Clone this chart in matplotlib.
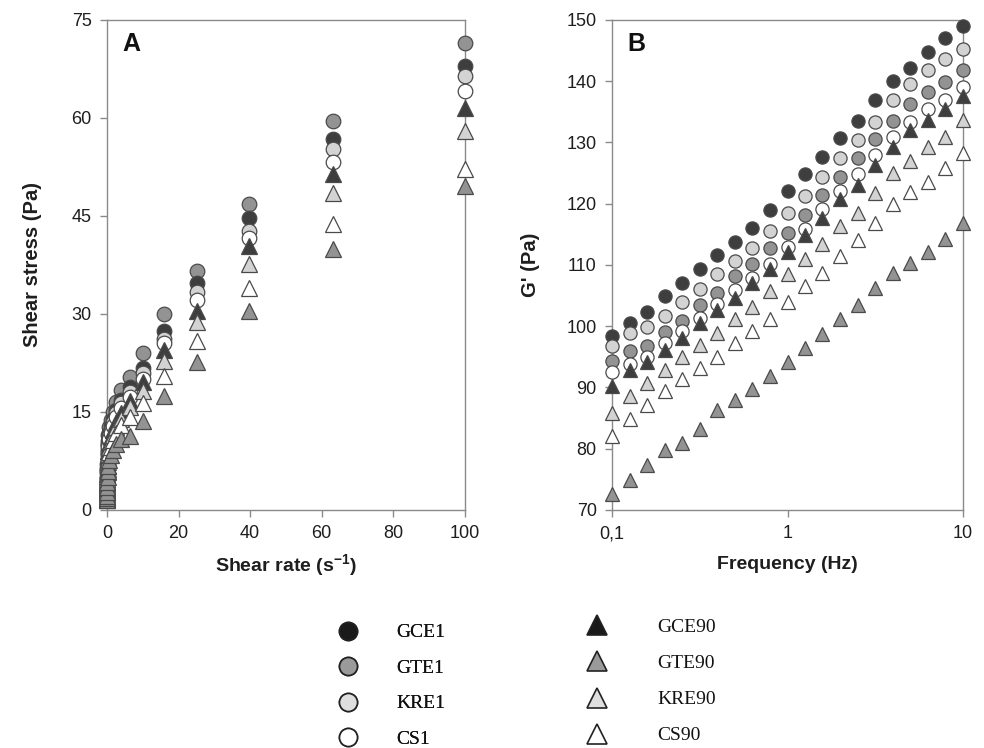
import matplotlib
matplotlib.use("Agg")
import matplotlib.pyplot as plt
from matplotlib.lines import Line2D
from matplotlib.ticker import FixedLocator, FixedFormatter, NullLocator

plt.rcParams['font.family'] = ['Liberation Sans', 'DejaVu Sans']
plt.rcParams['mathtext.fontset'] = 'custom'
plt.rcParams['mathtext.rm'] = 'Liberation Sans'
plt.rcParams['mathtext.bf'] = 'Liberation Sans:bold'

# --- panel A: flow curves (shear stress vs shear rate) ---
shear_rate = [0.01, 0.0158, 0.0251, 0.0398, 0.0631, 0.1, 0.158, 0.251, 0.398, 0.631,
              1, 1.58, 2.51, 3.98, 6.31, 10, 15.8, 25.1, 39.8, 63.1, 100]

stress_gce1 = [1.9, 2.4, 3.1, 4.0, 5.1, 6.4, 7.8, 9.2, 10.6, 11.8, 12.8, 13.9, 15.3,
               16.9, 18.8, 21.8, 27.4, 34.8, 44.7, 56.8, 68.0]
stress_gte1 = [2.0, 2.6, 3.4, 4.4, 5.6, 7.0, 8.5, 10.0, 11.5, 12.7, 13.8, 15.0, 16.6,
               18.3, 20.3, 24.0, 30.0, 36.6, 46.8, 59.6, 71.4]
stress_kre1 = [1.8, 2.3, 3.0, 3.9, 4.9, 6.1, 7.4, 8.8, 10.1, 11.3, 12.3, 13.4, 14.8,
               16.3, 18.0, 20.9, 26.2, 33.3, 42.7, 55.2, 66.4]
stress_cs1 = [1.8, 2.2, 2.9, 3.7, 4.7, 5.9, 7.1, 8.4, 9.7, 10.8, 11.8, 12.9, 14.2,
              15.6, 17.3, 20.1, 25.6, 32.2, 41.7, 53.3, 64.1]
stress_gce90 = [1.7, 2.1, 2.7, 3.5, 4.4, 5.5, 6.7, 7.9, 9.1, 10.2, 11.2, 12.3, 13.5,
                14.9, 16.7, 19.6, 24.5, 30.4, 40.4, 51.4, 61.6]
stress_gte90 = [1.5, 1.8, 2.2, 2.8, 3.5, 4.3, 5.1, 5.9, 6.8, 7.6, 8.4, 9.2, 10.1,
                10.9, 11.4, 13.6, 17.5, 22.7, 30.4, 40.0, 49.6]
stress_kre90 = [1.7, 2.0, 2.6, 3.3, 4.2, 5.2, 6.3, 7.4, 8.5, 9.6, 10.5, 11.5, 12.7,
                14.0, 15.8, 18.2, 22.8, 28.8, 37.6, 48.5, 58.0]
stress_cs90 = [1.6, 1.9, 2.4, 3.1, 3.9, 4.8, 5.8, 6.8, 7.8, 8.8, 9.7, 10.7, 11.8,
               13.0, 14.2, 16.4, 20.5, 25.9, 33.9, 43.7, 52.2]

# --- panel B: storage modulus vs frequency ---
frequency = [0.1, 0.126, 0.158, 0.2, 0.251, 0.316, 0.398, 0.501, 0.631, 0.794,
             1, 1.26, 1.58, 2, 2.51, 3.16, 3.98, 5.01, 6.31, 7.94, 10]

g_gce1 = [98.4, 100.6, 102.4, 105.0, 107.1, 109.3, 111.7, 113.7, 116.1, 119.0, 122.0,
          124.8, 127.7, 130.7, 133.5, 136.9, 140.0, 142.2, 144.8, 147.1, 149.0]
g_gte1 = [94.3, 95.9, 96.8, 99.0, 100.9, 103.4, 105.5, 108.2, 110.1, 112.8, 115.2,
          118.1, 121.4, 124.4, 127.4, 130.6, 133.5, 136.2, 138.2, 139.8, 141.8]
g_kre1 = [96.7, 98.9, 99.8, 101.7, 104.0, 106.1, 108.5, 110.6, 112.7, 115.5, 118.5,
          121.3, 124.4, 127.4, 130.4, 133.4, 137.0, 139.6, 141.8, 143.7, 145.2]
g_cs1 = [92.6, 93.9, 95.0, 97.3, 99.2, 101.3, 103.7, 105.9, 107.8, 110.1, 112.9,
         115.8, 119.1, 122.0, 124.9, 128.0, 130.9, 133.4, 135.4, 137.0, 139.0]
g_gce90 = [90.3, 92.8, 94.2, 96.2, 98.1, 100.6, 102.6, 104.6, 107.1, 109.3, 112.1,
           114.9, 117.7, 120.8, 123.0, 126.3, 129.3, 132.0, 133.7, 135.4, 137.6]
g_gte90 = [72.6, 74.9, 77.4, 79.8, 81.0, 83.3, 86.3, 88.0, 89.7, 91.9, 94.2,
           96.4, 98.7, 101.2, 103.4, 106.2, 108.7, 110.4, 112.1, 114.3, 116.9]
g_kre90 = [85.8, 88.6, 90.8, 92.9, 95.0, 97.0, 98.9, 101.1, 103.1, 105.7, 108.5,
           111.0, 113.5, 116.3, 118.5, 121.8, 125.0, 126.9, 129.2, 130.9, 133.7]
g_cs90 = [82.1, 84.8, 87.2, 89.4, 91.4, 93.1, 95.0, 97.3, 99.2, 101.2, 104.0,
          106.5, 108.7, 111.5, 114.1, 116.9, 119.9, 121.9, 123.6, 125.8, 128.3]

# marker and face colour per sample
styles = {
    'GCE1': ('o', '#3e3e3e'),
    'GTE1': ('o', '#939393'),
    'KRE1': ('o', '#d3d3d3'),
    'CS1': ('o', '#ffffff'),
    'GCE90': ('^', '#3e3e3e'),
    'GTE90': ('^', '#939393'),
    'KRE90': ('^', '#d3d3d3'),
    'CS90': ('^', '#ffffff'),
}

# draw order roughly top to bottom of each chart
series_a = [('GTE1', stress_gte1), ('GCE1', stress_gce1), ('KRE1', stress_kre1),
            ('CS1', stress_cs1), ('GCE90', stress_gce90), ('KRE90', stress_kre90),
            ('CS90', stress_cs90), ('GTE90', stress_gte90)]
series_b = [('GCE1', g_gce1), ('KRE1', g_kre1), ('GTE1', g_gte1), ('CS1', g_cs1),
            ('GCE90', g_gce90), ('KRE90', g_kre90), ('CS90', g_cs90), ('GTE90', g_gte90)]

EDGE = '#4a4a4a'
SPINE = '#8a8a8a'
TXT = '#1e1e1e'

fig = plt.figure(figsize=(9.84, 7.48), dpi=100)
ax_a = fig.add_axes([0.1087, 0.3182, 0.3638, 0.6551])
ax_b = fig.add_axes([0.6220, 0.3182, 0.3567, 0.6551])


def style_axes(ax):
    for sp in ax.spines.values():
        sp.set_color(SPINE)
        sp.set_linewidth(1.0)
    ax.tick_params(which='major', direction='out', length=5, width=1.0,
                   color=SPINE, labelsize=13, labelcolor=TXT, pad=6,
                   top=False, right=False)
    ax.tick_params(which='minor', length=0)


for name, vals in series_a:
    mk, fc = styles[name]
    ax_a.plot(shear_rate, vals, linestyle='none', marker=mk, ms=10.5 if mk == 'o' else 11,
              mfc=fc, mec=EDGE, mew=0.9, clip_on=False, zorder=3)

ax_a.set_xlim(0, 100)
ax_a.set_ylim(0, 75)
ax_a.set_xticks([0, 20, 40, 60, 80, 100])
ax_a.set_yticks([0, 15, 30, 45, 60, 75])
style_axes(ax_a)
ax_a.set_xlabel(r'Shear rate (s$^{\mathbf{-1}}$)', fontsize=14, fontweight='bold',
                color=TXT, labelpad=7)
ax_a.set_ylabel('Shear stress (Pa)', fontsize=14.5, fontweight='bold', color=TXT,
                labelpad=21)
ax_a.text(0.042, 0.975, 'A', transform=ax_a.transAxes, fontsize=18, fontweight='bold',
          va='top', ha='left', color='#111111')

for name, vals in series_b:
    mk, fc = styles[name]
    ax_b.plot(frequency, vals, linestyle='none', marker=mk, ms=9.5 if mk == 'o' else 10.5,
              mfc=fc, mec=EDGE, mew=0.9, clip_on=False, zorder=3)

ax_b.set_xscale('log')
ax_b.set_xlim(0.1, 10)
ax_b.set_ylim(70, 150)
ax_b.xaxis.set_major_locator(FixedLocator([0.1, 1, 10]))
ax_b.xaxis.set_major_formatter(FixedFormatter(['0,1', '1', '10']))
ax_b.xaxis.set_minor_locator(NullLocator())
ax_b.set_yticks(range(70, 151, 10))
style_axes(ax_b)
ax_b.set_xlabel('Frequency (Hz)', fontsize=14, fontweight='bold', color=TXT, labelpad=10)
ax_b.set_ylabel("G' (Pa)", fontsize=14.5, fontweight='bold', color=TXT, labelpad=19)
ax_b.text(0.045, 0.975, 'B', transform=ax_b.transAxes, fontsize=18, fontweight='bold',
          va='top', ha='left', color='#111111')

# legend below the panels
leg_colors = {'GCE1': '#1a1a1a', 'GTE1': '#9a9a9a', 'KRE1': '#dedede', 'CS1': '#ffffff',
              'GCE90': '#1a1a1a', 'GTE90': '#9a9a9a', 'KRE90': '#dedede', 'CS90': '#ffffff'}


def handles_for(names, marker, size):
    return [Line2D([], [], linestyle='none', marker=marker, ms=size,
                   mfc=leg_colors[n], mec='#222222', mew=1.2) for n in names]


circ_names = ['GCE1', 'GTE1', 'KRE1', 'CS1']
tri_names = ['GCE90', 'GTE90', 'KRE90', 'CS90']
legend_font = {'family': 'Liberation Serif', 'size': 14}

leg1 = fig.legend(handles_for(circ_names, 'o', 13), circ_names, loc='upper left',
                  bbox_to_anchor=(0.3437, 0.166), frameon=False, prop=legend_font,
                  handlelength=1.0, handletextpad=2.0, labelspacing=0.92,
                  borderpad=0, borderaxespad=0, labelcolor='#111111')
fig.add_artist(leg1)
fig.legend(handles_for(tri_names, '^', 14), tri_names, loc='upper left',
           bbox_to_anchor=(0.5968, 0.173), frameon=False, prop=legend_font,
           handlelength=1.0, handletextpad=2.6, labelspacing=0.95,
           borderpad=0, borderaxespad=0, labelcolor='#111111')

fig.savefig('out.png', dpi=100, facecolor='white')
